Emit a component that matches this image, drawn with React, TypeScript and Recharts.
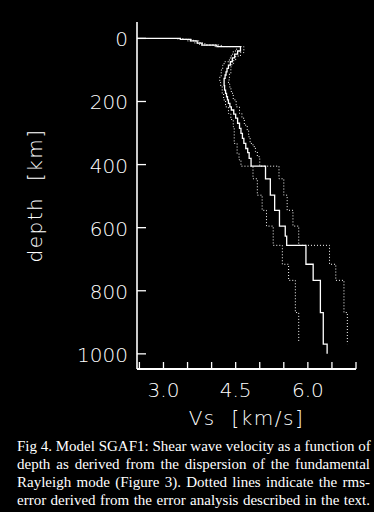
import React from 'react';
import { ScatterChart, Scatter, XAxis, YAxis } from 'recharts';

// axis ticks
const xTicks = [2.5, 3.0, 3.5, 4.0, 4.5, 5.0, 5.5, 6.0, 6.5, 7.0];
const xLabelled = [3.0, 4.5, 6.0];
const yTicks = [0, 200, 400, 600, 800, 1000];

// model SGAF1: layer tops (km) and shear velocity (km/s)
const solidTop = [0, 0, 3, 8, 15, 21, 26, 40, 50, 62, 74, 85, 95, 106, 116, 127, 150, 164, 174, 185, 195, 206, 217, 227, 240, 253, 269, 285, 301, 317, 333, 349, 362, 380, 405, 445, 497, 545, 595, 627, 656, 716, 767, 869, 969];
const solidVs = [2.46, 3.35, 3.56, 3.70, 3.80, 4.11, 4.60, 4.54, 4.48, 4.43, 4.39, 4.35, 4.32, 4.30, 4.28, 4.26, 4.27, 4.29, 4.31, 4.33, 4.35, 4.38, 4.41, 4.46, 4.50, 4.54, 4.58, 4.61, 4.64, 4.67, 4.71, 4.75, 4.78, 4.82, 5.12, 5.22, 5.31, 5.41, 5.53, 5.56, 5.96, 6.11, 6.26, 6.32, 6.40];
const solidBottom = 1000;

// rms-error bounds
const lowTop = [0, 3, 8, 15, 21, 26, 40, 50, 62, 74, 85, 100, 122, 140, 153, 174, 195, 217, 238, 257, 280, 333, 365, 385, 405, 445, 497, 545, 595, 656, 716, 767, 869];
const lowVs = [3.30, 3.50, 3.65, 3.75, 4.05, 4.52, 4.45, 4.41, 4.37, 4.26, 4.23, 4.20, 4.17, 4.19, 4.22, 4.25, 4.29, 4.35, 4.40, 4.45, 4.47, 4.53, 4.57, 4.61, 4.86, 4.95, 5.05, 5.14, 5.28, 5.47, 5.60, 5.74, 5.81];
const lowBottom = 962;

const highTop = [0, 3, 8, 15, 21, 26, 45, 56, 69, 79, 90, 111, 132, 145, 160, 174, 195, 217, 238, 253, 275, 291, 312, 333, 343, 359, 375, 405, 445, 497, 545, 595, 656, 716, 767, 869];
const highVs = [3.40, 3.62, 3.76, 3.86, 4.20, 4.67, 4.60, 4.50, 4.46, 4.42, 4.40, 4.37, 4.35, 4.38, 4.41, 4.45, 4.51, 4.58, 4.63, 4.68, 4.74, 4.77, 4.80, 4.86, 4.91, 4.95, 5.00, 5.40, 5.50, 5.57, 5.69, 5.81, 6.45, 6.58, 6.75, 6.82];
const highBottom = 969;

const caption = [
  'Fig 4.  Model SGAF1: Shear wave velocity as a function of',
  'depth as derived from the dispersion of the fundamental',
  'Rayleigh mode (Figure 3).  Dotted lines indicate the rms-',
  'error derived from the error analysis described in the text.',
];

const FONT = '"DejaVu Sans", sans-serif';

const toSteps = (tops: number[], vs: number[], bottom: number) => {
  const pts: { v: number; d: number }[] = [];
  tops.forEach((t, i) => {
    const next = i + 1 < tops.length ? tops[i + 1] : bottom;
    pts.push({ v: vs[i], d: t });
    pts.push({ v: vs[i], d: next });
  });
  return pts;
};

const solidPts = toSteps(solidTop, solidVs, solidBottom);
const lowPts = toSteps(lowTop, lowVs, lowBottom);
const highPts = toSteps(highTop, highVs, highBottom);

const XTick = ({ x, y, payload }: any) => (
  <g>
    <line x1={x} y1={y} x2={x} y2={y - 7} stroke="#ffffff" strokeWidth={1.3} />
    {xLabelled.includes(payload.value) && (
      <text x={x} y={y + 28} textAnchor="middle" fill="#fff" fontSize={20} fontFamily={FONT} fontWeight={200}>
        {payload.value.toFixed(1)}
      </text>
    )}
  </g>
);

const YTick = ({ x, y, payload }: any) => (
  <g>
    <line x1={x} y1={y} x2={x + 9} y2={y} stroke="#ffffff" strokeWidth={1.3} />
    <text x={x - 9} y={y + 8} textAnchor="end" fill="#fff" fontSize={20} fontFamily={FONT} fontWeight={200}>
      {payload.value}
    </text>
  </g>
);

const noDot = () => <g />;

export default function App() {
  return (
    <div style={{ position: 'absolute', left: 0, top: 0, width: 374, height: 512, background: '#000', overflow: 'hidden' }}>
      <div style={{ width: 374, height: 436 }}>
        <ScatterChart width={374} height={436} margin={{ top: 22, right: 18, bottom: 0, left: 0 }}>
          <XAxis
            type="number"
            dataKey="v"
            domain={[2.45, 7.0]}
            allowDataOverflow
            ticks={xTicks}
            interval={0}
            height={67}
            tickSize={0}
            tickMargin={0}
            axisLine={{ stroke: '#ffffff', strokeWidth: 2 }}
            tickLine={false}
            tick={<XTick />}
            label={{
              content: (p: any) => (
                <text
                  x={p.viewBox.x + p.viewBox.width / 2}
                  y={p.viewBox.y + 56}
                  textAnchor="middle"
                  fill="#fff"
                  fontSize={20}
                  fontFamily={FONT}
                  fontWeight={200}
                  letterSpacing={1.5}
                  style={{ whiteSpace: 'pre' }}
                >
                  {'Vs  [km/s]'}
                </text>
              ),
            }}
          />
          <YAxis
            type="number"
            dataKey="d"
            domain={[-52, 1048]}
            allowDataOverflow
            reversed
            ticks={yTicks}
            interval={0}
            width={137}
            tickSize={0}
            tickMargin={0}
            axisLine={{ stroke: '#ffffff', strokeWidth: 1.6 }}
            tickLine={false}
            tick={<YTick />}
            label={{
              content: (p: any) => {
                const cx = 35;
                const cy = p.viewBox.y + p.viewBox.height / 2;
                return (
                  <text
                    x={cx}
                    y={cy}
                    transform={`rotate(-90, ${cx}, ${cy})`}
                    textAnchor="middle"
                    dominantBaseline="central"
                    fill="#fff"
                    fontSize={20}
                    fontFamily={FONT}
                    fontWeight={200}
                    letterSpacing={1.5}
                    style={{ whiteSpace: 'pre' }}
                  >
                    {'depth  [km]'}
                  </text>
                );
              },
            }}
          />
          <Scatter
            data={lowPts}
            shape={noDot}
            lineType="joint"
            line={{ stroke: '#fff', strokeWidth: 1, strokeDasharray: '1 2' }}
            isAnimationActive={false}
          />
          <Scatter
            data={highPts}
            shape={noDot}
            lineType="joint"
            line={{ stroke: '#fff', strokeWidth: 1, strokeDasharray: '1 2' }}
            isAnimationActive={false}
          />
          <Scatter
            data={solidPts}
            shape={noDot}
            lineType="joint"
            line={{ stroke: '#fff', strokeWidth: 1.3 }}
            isAnimationActive={false}
          />
        </ScatterChart>
      </div>
      <div
        style={{
          position: 'absolute',
          left: 17,
          top: 437,
          width: 353,
          fontFamily: '"Liberation Serif", serif',
          fontSize: 15,
          lineHeight: '18px',
          color: '#fff',
        }}
      >
        {caption.map((line, i) => (
          <div key={i} style={{ whiteSpace: 'nowrap', textAlign: 'justify', textAlignLast: 'justify' }}>
            {line}
          </div>
        ))}
      </div>
    </div>
  );
}
